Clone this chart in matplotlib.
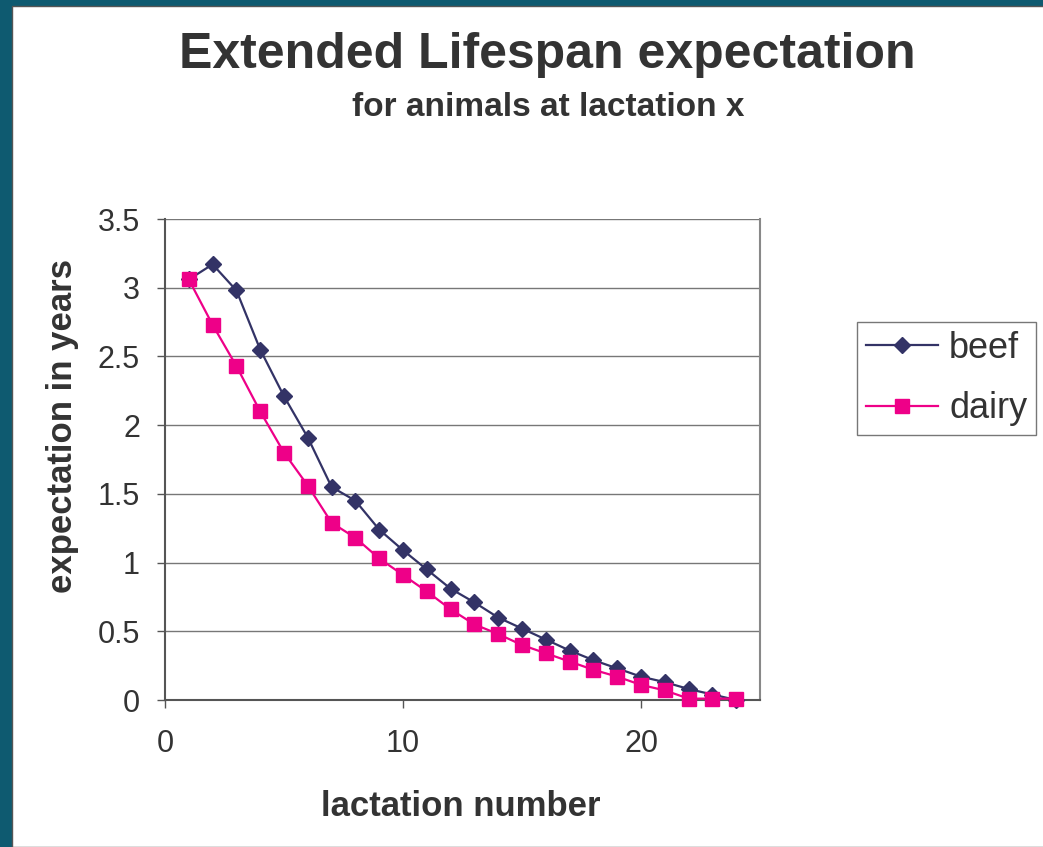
import matplotlib.pyplot as plt
from matplotlib.patches import Rectangle
from matplotlib.ticker import FuncFormatter

plt.rcParams['font.family'] = ['Liberation Sans', 'DejaVu Sans']

lactation = list(range(1, 25))
beef = [3.06, 3.17, 2.98, 2.55, 2.21, 1.91, 1.55, 1.45, 1.24, 1.09, 0.95, 0.81,
        0.71, 0.60, 0.52, 0.44, 0.36, 0.29, 0.23, 0.17, 0.13, 0.08, 0.04, 0.00]
dairy = [3.06, 2.73, 2.43, 2.10, 1.80, 1.56, 1.29, 1.18, 1.03, 0.91, 0.79, 0.66,
         0.55, 0.48, 0.40, 0.34, 0.28, 0.22, 0.17, 0.11, 0.07, 0.01, 0.01, 0.01]

fig = plt.figure(figsize=(10.43, 8.47), dpi=100)
fig.patch.set_facecolor('#0e5a70')
# white slide panel inside the teal border
fig.patches.append(Rectangle((12 / 1043, 0), 1, 1 - 6 / 847, transform=fig.transFigure,
                             facecolor='white', edgecolor='#555555', lw=1, zorder=-5))

ax = fig.add_axes([165 / 1043, 1 - 700 / 847, 595 / 1043, 481 / 847])
ax.set_zorder(2)
ax.plot(lactation, beef, color='#333366', marker='D', markersize=8, lw=1.6,
        label='beef', clip_on=False, zorder=3)
ax.plot(lactation, dairy, color='#ee0088', marker='s', markersize=10, lw=1.6,
        label='dairy', clip_on=False, zorder=3)

ax.set_xlim(0, 25)
ax.set_ylim(0, 3.5)
ax.set_xticks([0, 10, 20])
ax.set_yticks([0, 0.5, 1, 1.5, 2, 2.5, 3, 3.5])
ax.yaxis.set_major_formatter(FuncFormatter(lambda v, p: '%g' % v))
ax.grid(axis='y', color='#777777', lw=1)
ax.set_axisbelow(True)
ax.spines['top'].set_visible(False)
ax.spines['left'].set_color('#555555')
ax.spines['bottom'].set_color('#555555')
ax.spines['right'].set_color('#888888')
for s in ['left', 'bottom', 'right']:
    ax.spines[s].set_linewidth(1.5)
ax.tick_params(axis='both', labelsize=22, colors='#555555', labelcolor='#333333',
               length=6, width=1, direction='out')
ax.tick_params(axis='x', pad=15)
ax.tick_params(axis='y', pad=12)

ax.set_xlabel('lactation number', fontsize=25, fontweight='bold', color='#333333')
ax.set_ylabel('expectation in years', fontsize=25, fontweight='bold', color='#333333')
ax.xaxis.set_label_coords(0.497, -0.188)
ax.yaxis.set_label_coords(-0.145, 0.57)

fig.text(547 / 1043, 1 - 55 / 847, 'Extended Lifespan expectation', ha='center', va='center',
         fontsize=36, fontweight='bold', color='#333333')
fig.text(548 / 1043, 1 - 107 / 847, 'for animals at lactation x', ha='center', va='center',
         fontsize=24, fontweight='bold', color='#333333')

leg = fig.legend(loc='upper left', bbox_to_anchor=(857 / 1043, 1 - 322 / 847), fontsize=26,
                 frameon=True, fancybox=False, edgecolor='#555555', handlelength=2.0,
                 borderaxespad=0, labelspacing=0.7, handletextpad=0.3, borderpad=0.25)
leg.get_frame().set_linewidth(1)
for t in leg.get_texts():
    t.set_color('#333333')

fig.savefig('out.png', dpi=100, facecolor=fig.get_facecolor())
